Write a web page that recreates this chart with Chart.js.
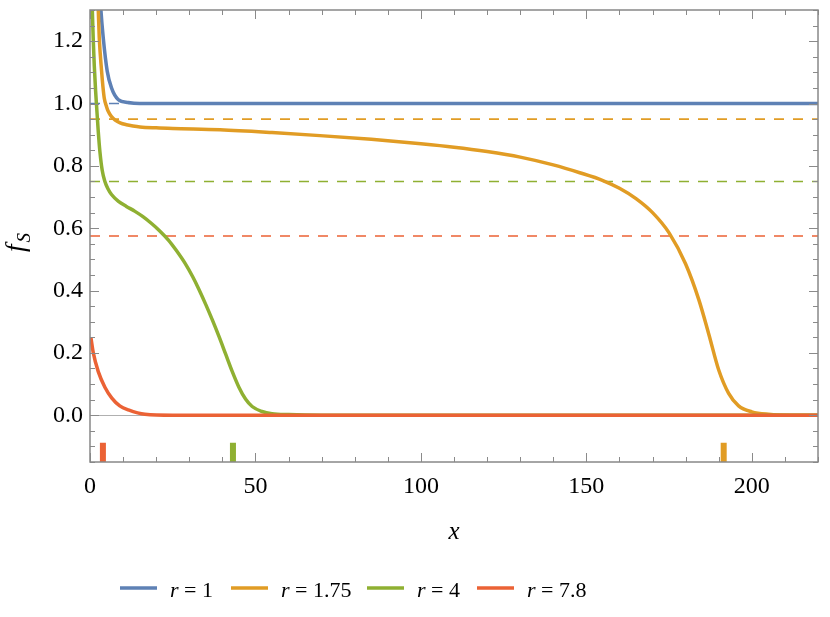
<!DOCTYPE html>
<html>
<head>
<meta charset="utf-8">
<script src="https://cdn.jsdelivr.net/npm/chart.js@4.4.0/dist/chart.umd.min.js"></script>
<style>
  html, body { margin: 0; padding: 0; background: #fff; }
</style>
</head>
<body>
<canvas id="chart" width="830" height="617"></canvas>
<script>
// curves (x, f_S)
var blueX = [3.0, 3.3, 4.0, 5.2, 6.5, 8.5, 11.6, 15, 20, 220];
var blueY = [1.36, 1.30, 1.211, 1.104, 1.05, 1.013, 1.003, 1.0, 1.0, 1.0];

var orangeX = [2.2, 2.5, 2.8, 3.5, 3.9, 4.3, 5.0, 5.5, 6.5, 7.6, 9.1, 11, 13, 15.1, 20, 25, 39.3, 55, 69.5, 85, 100, 110, 120, 130, 140, 148, 155, 160, 165, 170, 175, 180, 184, 187, 190, 193, 196, 200, 205, 212, 220];
var orangeY = [1.38, 1.30, 1.211, 1.104, 1.055, 1.018, 0.99, 0.975, 0.958, 0.947, 0.938, 0.932, 0.928, 0.925, 0.922, 0.920, 0.916, 0.907, 0.897, 0.885, 0.871, 0.860, 0.846, 0.828, 0.803, 0.778, 0.753, 0.728, 0.695, 0.65, 0.585, 0.485, 0.37, 0.26, 0.145, 0.07, 0.03, 0.011, 0.003, 0, 0];

var greenX = [0.5, 0.7, 1.0, 1.3, 1.7, 2.0, 2.5, 3.0, 3.7, 4.5, 5.5, 6.5, 8.6, 11, 13.6, 16, 18.6, 21, 23.7, 26, 28.7, 31, 33, 35, 37, 39, 41, 43, 45, 47, 49, 52, 55, 60, 70, 220];
var greenY = [1.40, 1.30, 1.20, 1.12, 1.04, 0.99, 0.91, 0.845, 0.785, 0.75, 0.725, 0.708, 0.686, 0.67, 0.654, 0.637, 0.615, 0.592, 0.562, 0.53, 0.488, 0.445, 0.402, 0.355, 0.305, 0.252, 0.196, 0.14, 0.09, 0.052, 0.028, 0.012, 0.005, 0.002, 0, 0];

var redX = [0.3, 1.0, 2.5, 4.5, 6.6, 9.0, 11.6, 16.6, 25, 220];
var redY = [0.248, 0.20, 0.14, 0.09, 0.055, 0.03, 0.017, 0.003, 0, 0];

// dashed asymptotes and the small bars under the zero line
var levelY = [1.0, 0.95, 0.75, 0.575];
var barX = [null, 191.5, 43.2, 3.9];
var barY = [-0.088, -0.15];

var seriesLabels = ['1', '1.75', '4', '7.8'];
var colors = ['#5E81B5', '#E19C24', '#8FB032', '#EB6235'];

var xTickValues = [0, 50, 100, 150, 200];
var yTickValues = [0, 0.2, 0.4, 0.6, 0.8, 1.0, 1.2];

var xMin = 0, xMax = 220, yMin = -0.15, yMax = 1.3;

function toPoints(xs, ys) {
  return xs.map(function(x, i) { return {x: x, y: ys[i]}; });
}

var curves = [[blueX, blueY], [orangeX, orangeY], [greenX, greenY], [redX, redY]];
var datasets = [];

curves.forEach(function(c, i) {
  datasets.push({
    label: 'r = ' + seriesLabels[i],
    data: toPoints(c[0], c[1]),
    borderColor: colors[i],
    borderWidth: 3.5,
    pointRadius: 0,
    cubicInterpolationMode: 'monotone',
    clip: 0,
    order: 4 - i
  });
});

levelY.forEach(function(v, i) {
  datasets.push({
    label: 'level ' + seriesLabels[i],
    data: toPoints([xMin, xMax], [v, v]),
    borderColor: colors[i],
    borderWidth: 1.6,
    borderDash: [10, 9],
    pointRadius: 0,
    clip: 0,
    order: 20
  });
});

barX.forEach(function(v, i) {
  if (v === null) return;
  datasets.push({
    label: 'bar ' + seriesLabels[i],
    data: toPoints([v, v], barY),
    borderColor: colors[i],
    borderWidth: 6,
    borderCapStyle: 'butt',
    pointRadius: 0,
    clip: 0,
    order: 10
  });
});

var serif = "'Liberation Serif', 'Times New Roman', serif";

var framePlugin = {
  id: 'frame',
  beforeDatasetsDraw: function(chart) {
    var ctx = chart.ctx, a = chart.chartArea, y = chart.scales.y;
    var y0 = Math.round(y.getPixelForValue(0)) + 0.5;
    ctx.save();
    ctx.strokeStyle = '#b0b0b0';
    ctx.lineWidth = 1;
    ctx.beginPath();
    ctx.moveTo(a.left, y0);
    ctx.lineTo(a.right, y0);
    ctx.stroke();
    ctx.restore();
  },
  afterDatasetsDraw: function(chart) {
    var ctx = chart.ctx, a = chart.chartArea;
    var sx = chart.scales.x, sy = chart.scales.y;
    ctx.save();
    ctx.strokeStyle = '#8a8a8a';
    ctx.lineWidth = 1;
    var v, p, len;
    ctx.beginPath();
    for (v = 0; v <= xMax + 1e-9; v += 10) {
      p = Math.round(sx.getPixelForValue(v)) + 0.5;
      len = (v % 50 === 0) ? 9 : 5;
      ctx.moveTo(p, a.bottom); ctx.lineTo(p, a.bottom - len);
      ctx.moveTo(p, a.top); ctx.lineTo(p, a.top + len);
    }
    for (var k = -3; k <= 26; k++) {
      v = k * 0.05;
      p = Math.round(sy.getPixelForValue(v)) + 0.5;
      len = (k % 4 === 0) ? 9 : 5;
      ctx.moveTo(a.left, p); ctx.lineTo(a.left + len, p);
      ctx.moveTo(a.right, p); ctx.lineTo(a.right - len, p);
    }
    ctx.stroke();
    ctx.lineWidth = 1.5;
    ctx.strokeStyle = '#888';
    ctx.strokeRect(a.left, a.top, a.right - a.left, a.bottom - a.top);
    ctx.restore();
  },
  afterDraw: function(chart) {
    var ctx = chart.ctx;
    ctx.save();
    // legend: line sample then "r = value", r in italics
    var startX = [120, 231, 367, 477];
    var ly = 588, base = 597;
    ctx.textBaseline = 'alphabetic';
    ctx.textAlign = 'left';
    for (var i = 0; i < seriesLabels.length; i++) {
      var x = startX[i];
      ctx.strokeStyle = colors[i];
      ctx.lineWidth = 3.5;
      ctx.beginPath();
      ctx.moveTo(x, ly); ctx.lineTo(x + 37, ly);
      ctx.stroke();
      x += 50;
      ctx.fillStyle = '#000';
      ctx.font = 'italic 22px ' + serif;
      ctx.fillText('r', x, base);
      x += ctx.measureText('r').width;
      ctx.font = '22px ' + serif;
      ctx.fillText(' = ' + seriesLabels[i], x, base);
    }
    // y axis title f_S
    ctx.translate(24, 252);
    ctx.rotate(-Math.PI / 2);
    ctx.font = 'italic 27px ' + serif;
    ctx.fillText('f', 0, 0);
    var w = ctx.measureText('f').width;
    ctx.font = 'italic 19px ' + serif;
    ctx.fillText('S', w + 2, 6);
    ctx.restore();
  }
};

new Chart(document.getElementById('chart'), {
  type: 'line',
  data: { datasets: datasets },
  plugins: [framePlugin],
  options: {
    responsive: false,
    animation: false,
    parsing: false,
    layout: { padding: { top: 10, right: 12, left: 0, bottom: 0 } },
    plugins: { legend: { display: false }, tooltip: { enabled: false } },
    scales: {
      x: {
        type: 'linear',
        min: xMin,
        max: xMax,
        grid: { display: false, drawTicks: false },
        border: { display: false },
        afterBuildTicks: function(scale) {
          scale.ticks = xTickValues.map(function(v) { return {value: v}; });
        },
        afterFit: function(scale) {
          scale.height = 155;
          scale.paddingLeft = 0; scale.paddingRight = 0;
        },
        ticks: {
          color: '#000',
          padding: 10,
          maxRotation: 0,
          font: { family: serif, size: 24 },
          callback: function(v) { return String(v); }
        },
        title: {
          display: true,
          text: 'x',
          color: '#000',
          font: { family: serif, size: 25, style: 'italic' },
          padding: { top: 0, bottom: 70 }
        }
      },
      y: {
        type: 'linear',
        min: yMin,
        max: yMax,
        grid: { display: false, drawTicks: false },
        border: { display: false },
        afterBuildTicks: function(scale) {
          scale.ticks = yTickValues.map(function(v) { return {value: v}; });
        },
        afterFit: function(scale) {
          scale.width = 90;
          scale.paddingTop = 0; scale.paddingBottom = 0;
        },
        ticks: {
          color: '#000',
          padding: 7,
          font: { family: serif, size: 24 },
          callback: function(v) { return Number(v).toFixed(1); }
        }
      }
    }
  }
});
</script>
</body>
</html>
